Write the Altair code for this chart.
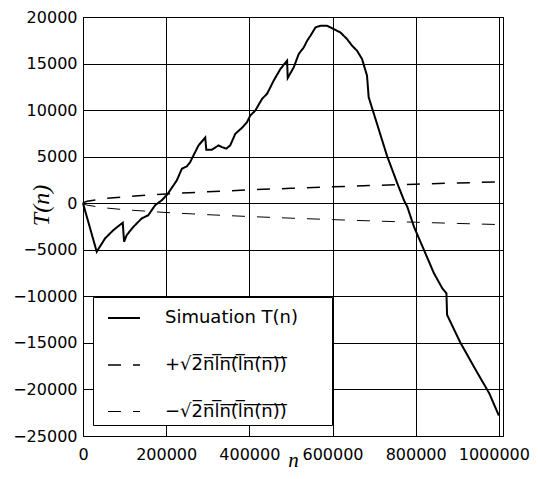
import altair as alt
import pandas as pd

# Simulation T(n)
sim_n = [0, 33000, 53000, 73000, 85000, 95600, 98800, 105000, 121000, 141000,
         157000, 173500, 189600, 203000, 225700, 237800, 249800, 257800, 265800,
         277800, 294000, 296400, 310000, 326000, 334000, 344600, 354000, 366300,
         382400, 394400, 402400, 414500, 430600, 442600, 458600, 474700, 490800,
         492300, 506800, 518800, 530800, 539000, 547000, 559000, 571000, 587000,
         603000, 619000, 635000, 647000, 659000, 671000, 683000, 687000, 699500,
         707000, 731000, 756000, 771800, 780000, 796000, 808000, 844000, 864000,
         874000, 875500, 908000, 948600, 976600, 1000000]
sim_t = [0, -5210, -3780, -2890, -2460, -2100, -4140, -3430, -2540, -1640,
         -1290, -210, 320, 960, 2460, 3710, 3960, 4420, 5140,
         6210, 7050, 5750, 5750, 6210, 6030, 5860, 6210, 7460,
         8100, 8710, 9420, 9960, 11210, 11750, 13170, 14420, 15310,
         13460, 14590, 16030, 16730, 17450, 17990, 18880, 19060, 19060,
         18700, 18340, 17630, 16920, 16380, 15490, 13700, 11380, 9600,
         8530, 5100, 2110, 320, -400, -2540, -3780, -7530, -9130,
         -9670, -11990, -15020, -18230, -20380, -22800]

# envelope +/- sqrt(2 n ln(ln n))
env_n = [0, 1000, 10000, 50000, 100000, 200000, 300000, 400000, 500000,
         600000, 700000, 800000, 900000, 1000000]
env_t = [0, 62, 211, 488, 699, 1000, 1233, 1430, 1604, 1762, 1908, 2043, 2171, 2291]

ovl = lambda s: "".join(c + "\u0305" for c in s)
labels = ["Simuation T(n)",
          "+\u221a" + ovl("2nln(ln(n))"),
          "\u2212\u221a" + ovl("2nln(ln(n))")]

x_ticks = [0, 200000, 400000, 600000, 800000, 1000000]
y_ticks = [-25000, -20000, -15000, -10000, -5000, 0, 5000, 10000, 15000, 20000]

rows = []
for n, t in zip(sim_n, sim_t):
    rows.append({"n": n, "T": t, "series": labels[0]})
for n, t in zip(env_n, env_t):
    rows.append({"n": n, "T": t, "series": labels[1]})
for n, t in zip(env_n, env_t):
    rows.append({"n": n, "T": -t, "series": labels[2]})
df = pd.DataFrame(rows)

# an invisible title on the right widens the legend frame to match the reference
leg = alt.Legend(title="MM", titleOrient="right", titleOpacity=0, titlePadding=0,
                 titleFontSize=18,
                 orient="none", legendX=10, legendY=280,
                 fillColor="white", strokeColor="black", padding=4,
                 labelFontSize=18, labelFont="DejaVu Sans", labelColor="black",
                 symbolType="stroke", symbolSize=1024, symbolStrokeColor="black",
                 labelOffset=24, rowPadding=21, symbolOffset=10, labelLimit=400,
                 cornerRadius=0)

chart = alt.Chart(df).mark_line(color="black").encode(
    x=alt.X("n:Q", scale=alt.Scale(domain=[0, 1010000], nice=False, zero=False),
            axis=alt.Axis(values=x_ticks, format="d", title="n", labelFlush=False,
                          titleFont="Liberation Serif", titleFontStyle="italic",
                          titleFontWeight="normal", titleFontSize=21,
                          titleY=34, titleBaseline="bottom", labelPadding=10,
                          labelOffset={"condition": {"test": "datum.value == 1000000", "value": -5}, "value": 0})),
    y=alt.Y("T:Q", scale=alt.Scale(domain=[-25000, 20000], nice=False),
            axis=alt.Axis(values=y_ticks, format="d", title="T(n)", labelFlush=False,
                          titleFont="Liberation Serif", titleFontStyle="italic",
                          titleFontWeight="normal", titleFontSize=24,
                          titleX=-30, titleY=188, titleAlign="center",
                          titleAngle=270, labelPadding=6)),
    strokeDash=alt.StrokeDash("series:N", scale=alt.Scale(domain=labels, range=[[1, 0], [13, 12], [13, 12]]), legend=leg),
    strokeWidth=alt.StrokeWidth("series:N", scale=alt.Scale(domain=labels, range=[2, 1, 1]), legend=leg),
    order=alt.Order("n:Q"),
).properties(
    width=420, height=419,
    autosize=alt.AutoSizeParams(type="none"),
    padding={"left": 75, "top": 9, "right": 27, "bottom": 35},
).configure_view(
    stroke="black", strokeWidth=1
).configure_axis(
    grid=True, gridColor="black", gridOpacity=1, gridWidth=1,
    domain=False, ticks=False, tickSize=0,
    labelFont="DejaVu Sans", labelFontSize=16, labelColor="black", titleColor="black",
)

chart.save("out.html", embed_options={"renderer": "svg", "actions": False})
